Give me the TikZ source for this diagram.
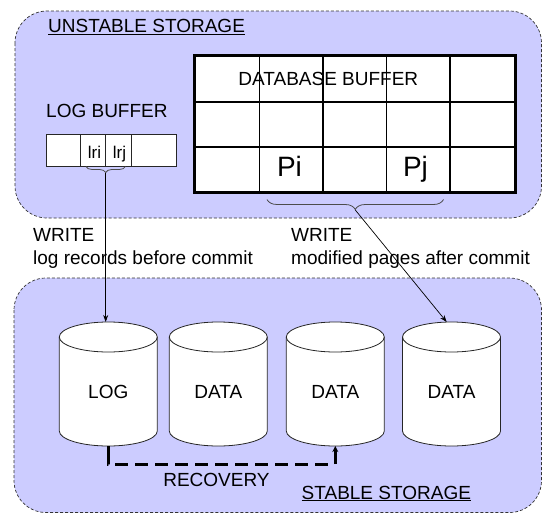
\documentclass[tikz,border=0pt]{standalone}
\usepackage{fontspec}
\setmainfont{Liberation Sans}
\usetikzlibrary{arrows.meta,decorations.pathreplacing}
\definecolor{regionfill}{HTML}{CCCCFF}
\newcommand\dbcyl[3]{%
  \draw[cylline] (#2-49,337) -- (#2-49,431)
    arc[start angle=180,end angle=360,x radius=49pt,y radius=15pt]
    -- (#2+49,337)
    arc[start angle=0,end angle=180,x radius=49pt,y radius=15pt] -- cycle;
  \draw[cylline,fill=none] (#2-49,337)
    arc[start angle=180,end angle=360,x radius=49pt,y radius=15pt];
  \node[lbl,anchor=base] (#1) at (#2,398.5) {#3};
  \coordinate (#1-top) at (#2,322);
  \coordinate (#1-bot) at (#2,446);
}
\begin{document}
\begin{tikzpicture}[x=1pt,y=-1pt,
  region/.style={draw=black!80, dash pattern=on 3pt off 2pt, line width=0.7pt,
    fill=regionfill, rounded corners=32pt},
  lbl/.style={inner sep=0pt, font=\fontsize{19}{23}\selectfont, text=black},
  cylline/.style={draw=black!85, line width=0.8pt, fill=white},
  thinline/.style={draw=black!85, line width=0.8pt},
  bracestyle/.style={draw=black!70, line width=0.8pt, decorate},
  wire/.style={draw=black, line width=0.7pt, -{Stealth[length=7pt,width=5pt]}},
  recov/.style={draw=black, line width=3pt,
    dash pattern=on 18pt off 7pt on 13pt off 7pt on 13pt off 7pt on 13pt off 7pt
      on 13pt off 7pt on 13pt off 7pt on 13pt off 7pt on 13pt off 7pt on 13pt off 7pt
      on 13pt off 7pt on 13pt off 7pt on 13pt off 7pt on 40pt,
    -{Stealth[length=6pt,width=6pt]}}
]
\useasboundingbox (0,0) rectangle (543,514);

% regions
\draw[region] (15,11) rectangle (541.5,218);
\draw[region] (14,278) rectangle (541.5,512.5);

\node[lbl,anchor=base west] (unstable) at (48,32.5) {\underline{UNSTABLE STORAGE}};
\node[lbl,anchor=base west] (stable) at (301.5,499) {\underline{STABLE STORAGE}};

% log buffer
\node[lbl,anchor=base west] (logbuflbl) at (46,117.3) {LOG BUFFER};
\node[thinline, fill=white, minimum width=130pt, minimum height=32pt, inner sep=0pt] (logbuf) at (111.7,150) {};
\draw[thinline] (80,134) -- (80,166);
\draw[thinline] (105.7,134) -- (105.7,166);
\draw[thinline] (131,134) -- (131,166);
\node[lbl,anchor=base,font=\fontsize{17}{20}\selectfont] (lri) at (94.5,158.5) {lri};
\node[lbl,anchor=base,font=\fontsize{17}{20}\selectfont] (lrj) at (119.5,158.5) {lrj};
\draw[bracestyle, decoration={brace,mirror,amplitude=6pt}] (86,166.5) -- (125.4,166.5);
\coordinate (logtip) at (105.7,172.5);

% database buffer
\node[fill=white, minimum width=320pt, minimum height=137pt, inner sep=0pt] (dbbuf) at (355,124.2) {};
\node[lbl,anchor=base] (dblbl) at (328.3,85) {DATABASE BUFFER};
\node[lbl,anchor=base,font=\fontsize{28}{32}\selectfont] (pi) at (289.5,176.7) {Pi};
\node[lbl,anchor=base,font=\fontsize{28}{32}\selectfont] (pj) at (415.5,176.7) {Pj};
\draw[line width=2.3pt] (193,101.7) -- (515,101.7);
\draw[line width=2.3pt] (193,147.3) -- (515,147.3);
\draw[line width=1pt] (259.3,54) -- (259.3,194);
\draw[line width=2.3pt] (323.3,55.7) -- (323.3,192.7);
\draw[line width=1pt] (386.7,55.7) -- (386.7,192.7);
\draw[line width=2.3pt] (450,55.7) -- (450,192.7);
\draw[line width=3pt] (dbbuf.south west) rectangle (dbbuf.north east);
\draw[bracestyle, decoration={brace,mirror,amplitude=10pt}] (267,199.5) -- (443.5,199.5);
\coordinate (dbtip) at (355.3,210);

% write labels
\node[lbl,anchor=base west,align=left] (write1) at (33,264) {WRITE\\log records before commit};
\node[lbl,anchor=base west,align=left] (write2) at (291,264) {WRITE\\modified pages after commit};

% disks
\dbcyl{cyl1}{108.3}{LOG}
\dbcyl{cyl2}{218.3}{DATA}
\dbcyl{cyl3}{335.3}{DATA}
\dbcyl{cyl4}{451.5}{DATA}

\node[lbl,anchor=base] (recovery) at (216.5,486.7) {RECOVERY};

% connectors
\draw[wire] (logtip) -- (logtip |- cyl1-top);
\draw[wire] (dbtip) -- ([xshift=-4.8pt]cyl4-top);
\draw[recov] (cyl1-bot) -- ++(0,18) -| (cyl3-bot);
\end{tikzpicture}
\end{document}
